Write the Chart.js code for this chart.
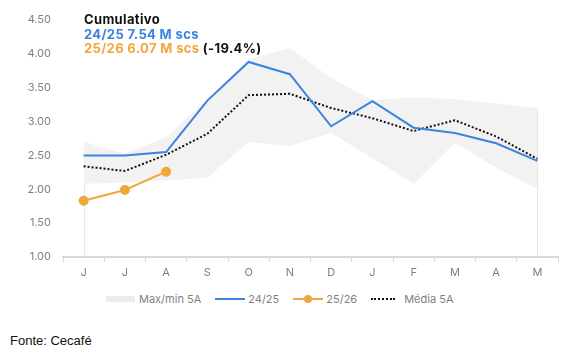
<!DOCTYPE html>
<html>
<head>
<meta charset="utf-8">
<script src="https://cdn.jsdelivr.net/npm/chart.js@4.4.1/dist/chart.umd.min.js"></script>
<style>
  html, body { margin: 0; padding: 0; background: #fff; }
  body { width: 568px; height: 354px; position: relative; overflow: hidden; font-family: Inter, "Noto Sans", sans-serif; }
  #chartBox { position: absolute; left: 0; top: 0; width: 568px; height: 285px; }
  #note { position: absolute; left: 84px; top: 12px; font-weight: 700; font-size: 13px; letter-spacing: 0.35px; line-height: 14.5px; color: #111; }
  #note .blue { color: #3a84e0; }
  #note .orange { color: #f0a83c; }
  #legend { position: absolute; top: 292px; left: 106px; display: flex; align-items: center; font-size: 11px; color: #7f7f7f; white-space: nowrap; }
  #legend .item { display: flex; align-items: center; margin-right: 14px; }
  #legend .sw { position: relative; width: 30px; height: 14px; margin-right: 3px; }
  #source { position: absolute; left: 10px; top: 333px; font-family: "Liberation Sans", Arial, sans-serif; font-size: 13px; color: #111; }
</style>
</head>
<body>
<div id="chartBox"><canvas id="chart" width="568" height="285"></canvas></div>
<div id="note">
  <div>Cumulativo</div>
  <div class="blue">24/25 7.54 M scs</div>
  <div><span class="orange">25/26 6.07 M scs</span> (-19.4%)</div>
</div>
<div id="legend"></div>
<div id="source">Fonte: Cecafé</div>
<script>
const months = ["J", "J", "A", "S", "O", "N", "D", "J", "F", "M", "A", "M"];
const season2425 = [2.50, 2.50, 2.55, 3.31, 3.88, 3.70, 2.93, 3.30, 2.91, 2.83, 2.68, 2.42];
const season2526 = [1.83, 1.99, 2.26];
const avg5y = [2.34, 2.27, 2.51, 2.82, 3.39, 3.41, 3.20, 3.05, 2.86, 3.02, 2.78, 2.45];
const max5y = [2.70, 2.53, 2.77, 3.33, 3.92, 4.09, 3.64, 3.32, 3.36, 3.33, 3.27, 3.20];
const min5y = [2.08, 2.10, 2.13, 2.17, 2.70, 2.64, 2.83, 2.46, 2.08, 2.69, 2.32, 2.00];
const yTicks = [1.00, 1.50, 2.00, 2.50, 3.00, 3.50, 4.00, 4.50];

const blue = "#3a84e0";
const orange = "#f0a83c";
const band = "#f2f2f2";
const axisGray = "#d9d9d9";
const labelGray = "#7f7f7f";

// thin edge lines at both ends of the band (like the area border in the original)
const bandEdges = {
  id: "bandEdges",
  beforeDatasetsDraw(chart) {
    const x = chart.scales.x, y = chart.scales.y;
    const ctx = chart.ctx;
    ctx.save();
    ctx.strokeStyle = "#e6e6e6";
    ctx.lineWidth = 1;
    [0, months.length - 1].forEach(i => {
      const px = Math.round(x.getPixelForValue(i)) + 0.5;
      ctx.beginPath();
      ctx.moveTo(px, y.getPixelForValue(max5y[i]));
      ctx.lineTo(px, y.bottom);
      ctx.stroke();
    });
    ctx.restore();
  }
};

new Chart(document.getElementById("chart"), {
  type: "line",
  data: {
    labels: months,
    datasets: [
      { label: "24/25", data: season2425, borderColor: blue, borderWidth: 2, pointRadius: 0, tension: 0, fill: false },
      { label: "25/26", data: season2526, borderColor: orange, backgroundColor: orange, borderWidth: 2, pointRadius: 4, pointHoverRadius: 4, tension: 0, fill: false },
      { label: "Média 5A", data: avg5y, borderColor: "#111", borderWidth: 2, borderDash: [2, 2], pointRadius: 0, tension: 0, fill: false },
      { label: "Max/min 5A", data: max5y, borderWidth: 0, borderColor: "rgba(0,0,0,0)", backgroundColor: band, pointRadius: 0, tension: 0, fill: "+1" },
      { label: "min", data: min5y, borderWidth: 0, borderColor: "rgba(0,0,0,0)", pointRadius: 0, tension: 0, fill: false }
    ]
  },
  options: {
    responsive: false,
    animation: false,
    layout: { padding: { left: 0, right: 10, top: 20, bottom: 0 } },
    plugins: { legend: { display: false }, tooltip: { enabled: false } },
    scales: {
      x: {
        offset: true,
        grid: { drawOnChartArea: false, drawTicks: true, tickLength: 5, color: axisGray, offset: true },
        border: { color: axisGray, width: 2 },
        ticks: { color: labelGray, font: { family: "Inter", size: 11 }, padding: 4, maxRotation: 0 },
        afterFit(s) { s.height = 28; }
      },
      y: {
        min: 1, max: 4.5,
        grid: { display: false },
        border: { display: false },
        afterBuildTicks(s) { s.ticks = yTicks.map(v => ({ value: v })); },
        ticks: { color: labelGray, font: { family: "Inter", size: 11 }, padding: 4, callback: v => Number(v).toFixed(2) },
        afterFit(s) { s.width = 63; }
      }
    }
  },
  plugins: [bandEdges]
});

// legend in the same order as the original
const legendItems = [
  { text: "Max/min 5A", kind: "box" },
  { text: "24/25", kind: "line", color: blue },
  { text: "25/26", kind: "dot", color: orange },
  { text: "Média 5A", kind: "dotted", color: "#111" }
];
const legend = document.getElementById("legend");
legendItems.forEach(it => {
  const item = document.createElement("div");
  item.className = "item";
  const sw = document.createElement("div");
  sw.className = "sw";
  if (it.kind === "box") {
    sw.innerHTML = '<div style="position:absolute;left:0;top:4px;width:29px;height:6px;background:#ececec"></div>';
  } else if (it.kind === "dotted") {
    sw.style.width = "24px";
    sw.style.marginRight = "9px";
    sw.innerHTML = '<div style="position:absolute;left:0;top:6px;width:24px;border-top:2px dotted ' + it.color + '"></div>';
  } else {
    let html = '<div style="position:absolute;left:0;top:6px;width:30px;height:2px;background:' + it.color + '"></div>';
    if (it.kind === "dot") html += '<div style="position:absolute;left:11px;top:3px;width:8px;height:8px;border-radius:50%;background:' + it.color + '"></div>';
    sw.innerHTML = html;
  }
  const label = document.createElement("span");
  label.textContent = it.text;
  item.appendChild(sw);
  item.appendChild(label);
  legend.appendChild(item);
});
</script>
</body>
</html>
